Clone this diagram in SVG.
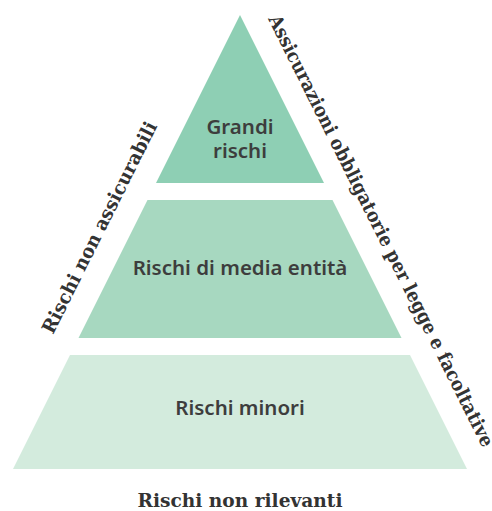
<svg xmlns="http://www.w3.org/2000/svg" width="492" height="511" viewBox="0 0 492 511">
<style>
.lvl{font-family:"Noto Sans","Open Sans",sans-serif;font-size:20.5px;font-weight:600;fill:#3d3d3d;text-anchor:middle}
.side{font-family:"DejaVu Serif","Liberation Serif",serif;font-size:19px;font-weight:bold;fill:#333}
</style>
<rect width="492" height="511" fill="#fff"/>
<g id="top">
<polygon points="240,15 324,183 156,183" fill="#8ecfb4"/>
<text class="lvl" x="240" y="134">Grandi</text>
<text class="lvl" x="240" y="158">rischi</text>
</g>
<g id="middle">
<polygon points="147.5,200 332.5,200 401.5,338 78.5,338" fill="#a7d8c0"/>
<text class="lvl" x="240" y="275">Rischi di media entità</text>
</g>
<g id="bottom">
<polygon points="70,355 410,355 467,469 13,469" fill="#d3ebdd"/>
<text class="lvl" x="240" y="415">Rischi minori</text>
</g>
<g id="labels">
<text class="side" transform="translate(53,335) rotate(-63.43)" textLength="234" lengthAdjust="spacingAndGlyphs">Rischi non assicurabili</text>
<text class="side" transform="translate(268,19) rotate(63.43)" textLength="480" lengthAdjust="spacingAndGlyphs">Assicurazioni obbligatorie per legge e facoltative</text>
<text class="side" x="240" y="507" text-anchor="middle" textLength="205" lengthAdjust="spacingAndGlyphs">Rischi non rilevanti</text>
</g>
</svg>
